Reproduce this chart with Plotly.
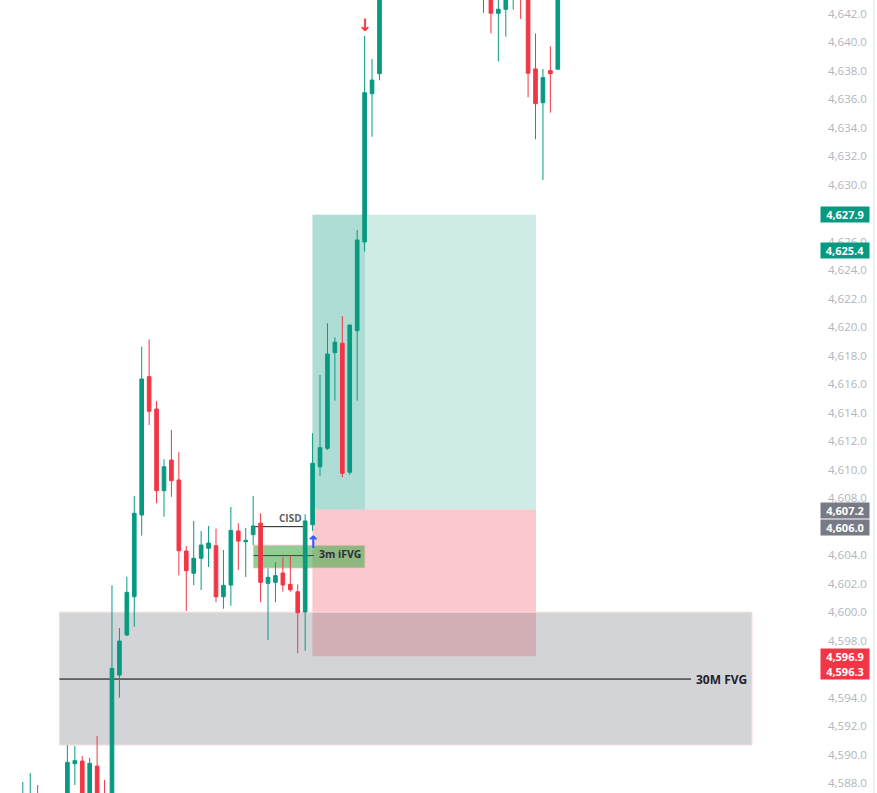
import plotly.graph_objects as go

# Candles (bar index, open, high, low, close)
bars = [-12,-11,-10,-9,-8,-7,-6,-5,-4,-3,-2,-1,0,1,2,3,4,5,6,7,8,9,10,11,12,13,14,15,16,17,18,19,
        20,21,22,23,24,25,26,27,28,29,30,31,32,33,34,35,36,
        50,51,52,53,54,55,56,57,58,59,60]
opens = [4584.70,4585.00,4586.81,4585.50,4586.00,4586.00,4586.10,4589.36,4589.54,4586.81,4589.19,4586.81,
         4586.81,4595.58,4598.39,4601.08,4606.82,4616.53,4614.26,4608.53,4610.68,4609.28,4604.29,4602.73,
         4603.78,4604.48,4604.66,4601.08,4601.90,4605.70,4604.94,4605.44,
         4606.24,4602.02,4602.09,4602.75,4601.95,4601.43,4600.01,4606.14,4610.21,4611.50,4618.22,4618.88,
         4609.82,4619.76,4625.99,4636.40,4637.81,
         4643.50,4644.50,4642.05,4642.33,4643.20,4644.00,4645.00,4638.14,4635.77,4638.02,4638.12]
highs = [4588.07,4588.70,4587.86,4586.50,4586.80,4587.00,4590.67,4590.60,4589.90,4589.76,4591.30,4588.21,
         4601.88,4598.88,4602.49,4608.15,4618.64,4619.16,4614.82,4610.73,4612.79,4611.24,4604.64,4606.40,
         4605.70,4606.05,4605.86,4604.36,4607.38,4606.24,4605.91,4608.15,
         4606.94,4603.08,4603.50,4603.85,4603.99,4601.95,4606.87,4612.56,4616.65,4620.28,4619.30,4620.79,
         4620.16,4626.83,4640.45,4638.84,4645.50,
         4645.00,4645.00,4644.50,4645.00,4645.00,4645.00,4646.00,4640.64,4638.14,4639.73,4645.00]
lows = [4584.00,4584.50,4585.00,4584.50,4585.00,4585.00,4585.40,4587.86,4586.10,4586.20,4586.20,4585.50,
        4586.00,4593.99,4598.32,4598.98,4605.37,4613.14,4607.64,4606.70,4608.10,4602.58,4600.08,4601.90,
        4601.55,4603.17,4600.69,4600.24,4600.45,4602.96,4602.47,4604.71,
        4600.69,4598.04,4600.69,4601.43,4601.43,4597.11,4597.29,4605.70,4609.58,4611.38,4614.85,4609.47,
        4609.65,4614.85,4625.31,4633.38,4637.34,
        4642.09,4640.64,4638.68,4640.41,4642.30,4641.65,4636.15,4633.20,4630.34,4635.07,4638.12]
closes = [4586.81,4587.00,4585.50,4586.00,4586.50,4586.50,4589.45,4589.57,4586.81,4589.38,4586.81,4586.00,
          4596.05,4597.97,4601.39,4606.94,4616.37,4614.10,4608.53,4610.21,4609.23,4604.31,4602.91,4603.78,
          4604.71,4604.85,4601.08,4601.88,4605.74,4604.99,4605.04,4606.05,
          4602.09,4602.44,4602.56,4601.90,4601.57,4599.96,4606.40,4610.45,4611.55,4618.12,4618.95,4609.75,
          4620.16,4626.13,4636.47,4637.36,4644.39,
          4644.50,4642.05,4642.33,4644.00,4644.00,4643.20,4637.84,4635.70,4637.53,4637.81,4644.00]

# Price levels and zones (levels hidden behind a price tag are not drawn)
price_ticks = [4588.0, 4590.0, 4592.0, 4594.0, 4598.0, 4600.0, 4602.0, 4604.0, 4608.0, 4610.0, 4612.0,
               4614.0, 4616.0, 4618.0, 4620.0, 4622.0, 4624.0, 4626.0, 4630.0, 4632.0, 4634.0, 4636.0,
               4638.0, 4640.0, 4642.0]
target_price, entry_price, stop_price = 4627.9, 4607.2, 4596.9
fvg_top, fvg_mid, fvg_bottom = 4600.0, 4595.3, 4590.67
ifvg_top, ifvg_mid, ifvg_bottom = 4604.7, 4603.97, 4603.1
cisd_price = 4606.0
tags_green = [4627.9, 4625.4]
tags_gray = [4607.2, 4606.0]
tags_red = [4596.9, 4596.3]

GREEN, RED, GRAY = "#089981", "#f23645", "#787b86"

fig = go.Figure(go.Candlestick(
    x=bars, open=opens, high=highs, low=lows, close=closes,
    increasing=dict(line=dict(color=GREEN, width=1), fillcolor=GREEN),
    decreasing=dict(line=dict(color=RED, width=1), fillcolor=RED),
    hoverinfo="skip", showlegend=False,
))


def rect(x0, x1, y0, y1, fill, line=None):
    fig.add_shape(type="rect", xref="x", yref="y", x0=x0, x1=x1, y0=y0, y1=y1,
                  fillcolor=fill, layer="below",
                  line=dict(color=line, width=1) if line else dict(width=0))


def hline(x0, x1, y, color):
    fig.add_shape(type="line", xref="x", yref="y", x0=x0, x1=x1, y0=y, y1=y,
                  layer="below", line=dict(color=color, width=1))


rect(26.98, 57.07, stop_price, entry_price, "rgba(242,54,69,0.27)")
rect(34.05, 57.07, entry_price, target_price, "rgba(8,153,129,0.2)")
rect(26.98, 34.05, entry_price, target_price, "rgba(8,153,129,0.33)")
rect(-7.07, 86.14, fvg_bottom, fvg_top, "rgba(120,123,134,0.33)", "#fbd9db")
rect(19.04, 34.05, ifvg_bottom, ifvg_top, "rgba(76,175,80,0.62)", "rgba(242,190,190,0.8)")
hline(-7.07, 77.93, fvg_mid, "#000000")
hline(19.04, 27.19, ifvg_mid, "rgba(20,30,20,0.75)")
hline(19.04, 25.98, cisd_price, "#1c1c1c")
fig.add_shape(type="line", xref="paper", yref="paper", x0=1.0568, x1=1.0568, y0=0, y1=1,
              line=dict(color="#e0e3eb", width=1))

anns = [
    dict(x=82.03, y=fvg_mid, text="<b>30M FVG</b>", font=dict(size=12, color="#1e222d")),
    dict(x=30.75, y=4604.07, text="<b>3m iFVG</b>", font=dict(size=10.5, color="#2a2e39")),
    dict(x=23.96, y=4606.62, text="<b>CISD</b>", font=dict(size=10, color="#606060")),
]
for a in anns:
    fig.add_annotation(xref="x", yref="y", showarrow=False, bgcolor="rgba(0,0,0,0)",
                       font_family="Open Sans", **{k: v for k, v in a.items()})


def tag(price, color, yshift=0):
    fig.add_annotation(xref="paper", yref="y", x=1.0218, y=price, yshift=yshift,
                       text=f"<b>{price:,.1f}</b>", showarrow=False, width=48, height=15,
                       bgcolor=color, borderpad=0, xanchor="center",
                       font=dict(family="Open Sans", size=11, color="#ffffff"))


for p in tags_green:
    tag(p, GREEN)
tag(tags_gray[0], GRAY, -1)
tag(tags_gray[1], GRAY, -1)
tag(tags_red[0], RED)
tag(tags_red[1], RED, -7)

# Trade arrows
fig.add_annotation(x=27, y=4604.95, xref="x", yref="y", text="<b>↑</b>", showarrow=False, yanchor="middle",
                   font=dict(family="DejaVu Sans", size=17, color="#2962ff"))
fig.add_annotation(x=34, y=4641.2, xref="x", yref="y", text="<b>↓</b>", showarrow=False, yanchor="middle",
                   font=dict(family="DejaVu Sans", size=17, color=RED))

fig.update_layout(
    width=877, height=793, margin=dict(l=0, r=50, t=0, b=0),
    paper_bgcolor="#ffffff", plot_bgcolor="#ffffff", showlegend=False,
    xaxis=dict(range=[-15.07, 96.23], visible=False, rangeslider=dict(visible=False),
               showgrid=False, zeroline=False),
    yaxis=dict(range=[4587.30, 4642.98], side="right", tickvals=price_ticks, tickformat=",.1f",
               showgrid=False, zeroline=False, showline=False, ticks="",
               tickfont=dict(family="Open Sans", size=11.5, color="#b2b5be")),
)

fig.write_html("out.html", config=dict(displayModeBar=False),
               post_script="document.body.style.margin='0';")
